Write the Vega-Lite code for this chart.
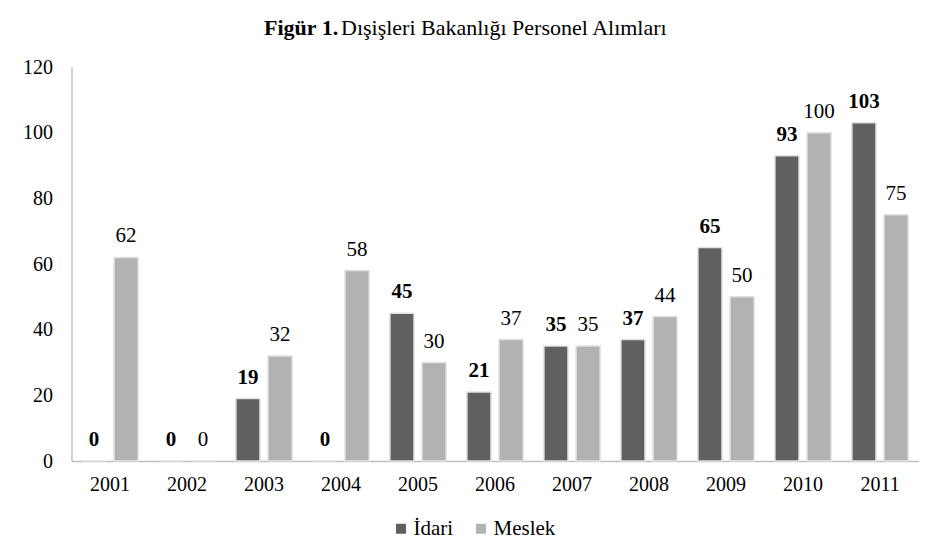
{
  "$schema": "https://vega.github.io/schema/vega-lite/v6.json",
  "width": 847,
  "height": 394,
  "autosize": {"type": "none"},
  "padding": {"left": 71.5, "top": 67, "right": 25.5, "bottom": 97},
  "background": "white",
  "title": {
    "text": "Figür 1.",
    "subtitle": "\u200b\u00a0\u00a0\u00a0\u00a0\u00a0\u00a0\u00a0\u00a0\u00a0\u00a0\u00a0\u00a0\u00a0\u00a0Dışişleri Bakanlığı Personel Alımları",
    "anchor": "middle",
    "align": "left",
    "dx": -231,
    "offset": 17,
    "font": "Liberation Serif",
    "fontSize": 22,
    "fontWeight": "bold",
    "color": "#000000",
    "subtitleFont": "Liberation Serif",
    "subtitleFontSize": 22,
    "subtitleFontWeight": "normal",
    "subtitleColor": "#000000",
    "subtitlePadding": -22
  },
  "data": {
    "values": [
      {"year": "2001", "type": "İdari", "value": 0},
      {"year": "2001", "type": "Meslek", "value": 62},
      {"year": "2002", "type": "İdari", "value": 0},
      {"year": "2002", "type": "Meslek", "value": 0},
      {"year": "2003", "type": "İdari", "value": 19},
      {"year": "2003", "type": "Meslek", "value": 32},
      {"year": "2004", "type": "İdari", "value": 0},
      {"year": "2004", "type": "Meslek", "value": 58},
      {"year": "2005", "type": "İdari", "value": 45},
      {"year": "2005", "type": "Meslek", "value": 30},
      {"year": "2006", "type": "İdari", "value": 21},
      {"year": "2006", "type": "Meslek", "value": 37},
      {"year": "2007", "type": "İdari", "value": 35},
      {"year": "2007", "type": "Meslek", "value": 35},
      {"year": "2008", "type": "İdari", "value": 37},
      {"year": "2008", "type": "Meslek", "value": 44},
      {"year": "2009", "type": "İdari", "value": 65},
      {"year": "2009", "type": "Meslek", "value": 50},
      {"year": "2010", "type": "İdari", "value": 93},
      {"year": "2010", "type": "Meslek", "value": 100},
      {"year": "2011", "type": "İdari", "value": 103},
      {"year": "2011", "type": "Meslek", "value": 75}
    ]
  },
  "encoding": {
    "x": {
      "field": "year",
      "type": "nominal",
      "scale": {"paddingInner": 0.27, "paddingOuter": 0.135},
      "axis": {
        "title": null,
        "labelAngle": 0,
        "labelFont": "Liberation Serif",
        "labelFontSize": 20,
        "labelColor": "#000000",
        "labelPadding": 13,
        "ticks": false,
        "domainColor": "#bfbfbf",
        "domainWidth": 1.5
      }
    },
    "xOffset": {
      "field": "type",
      "type": "nominal",
      "sort": ["İdari", "Meslek"],
      "scale": {"paddingInner": 0.25, "paddingOuter": 0}
    },
    "y": {
      "field": "value",
      "type": "quantitative",
      "scale": {"domain": [0, 120], "nice": false},
      "axis": {
        "title": null,
        "values": [0, 20, 40, 60, 80, 100, 120],
        "grid": false,
        "ticks": false,
        "labelFont": "Liberation Serif",
        "labelFontSize": 20,
        "labelColor": "#000000",
        "labelPadding": 19,
        "domainColor": "#bfbfbf",
        "domainWidth": 1.5
      }
    }
  },
  "layer": [
    {
      "mark": {"type": "bar", "stroke": "#e2e2e2", "strokeWidth": 1.5},
      "encoding": {
        "color": {
          "field": "type",
          "type": "nominal",
          "sort": ["İdari", "Meslek"],
          "scale": {"domain": ["İdari", "Meslek"], "range": ["#606060", "#b2b2b2"]},
          "legend": {
            "title": null,
            "orient": "none",
            "legendX": 319,
            "legendY": 451,
            "direction": "horizontal",
            "symbolType": "square",
            "symbolSize": 100,
            "symbolStrokeWidth": 0,
            "labelFont": "Liberation Serif",
            "labelFontSize": 21,
            "labelColor": "#000000",
            "labelOffset": 2,
            "columnPadding": 17
          }
        }
      }
    },
    {
      "transform": [{"filter": "datum.type === 'İdari'"}],
      "mark": {"type": "text", "baseline": "alphabetic", "dy": -15, "font": "Liberation Serif", "fontSize": 21, "fontWeight": "bold", "color": "#000000"},
      "encoding": {"text": {"field": "value", "type": "quantitative"}}
    },
    {
      "transform": [{"filter": "datum.type === 'Meslek'"}],
      "mark": {"type": "text", "baseline": "alphabetic", "dy": -15, "font": "Liberation Serif", "fontSize": 21, "fontWeight": "normal", "color": "#000000"},
      "encoding": {"text": {"field": "value", "type": "quantitative"}}
    }
  ],
  "config": {
    "view": {"stroke": null}
  }
}
